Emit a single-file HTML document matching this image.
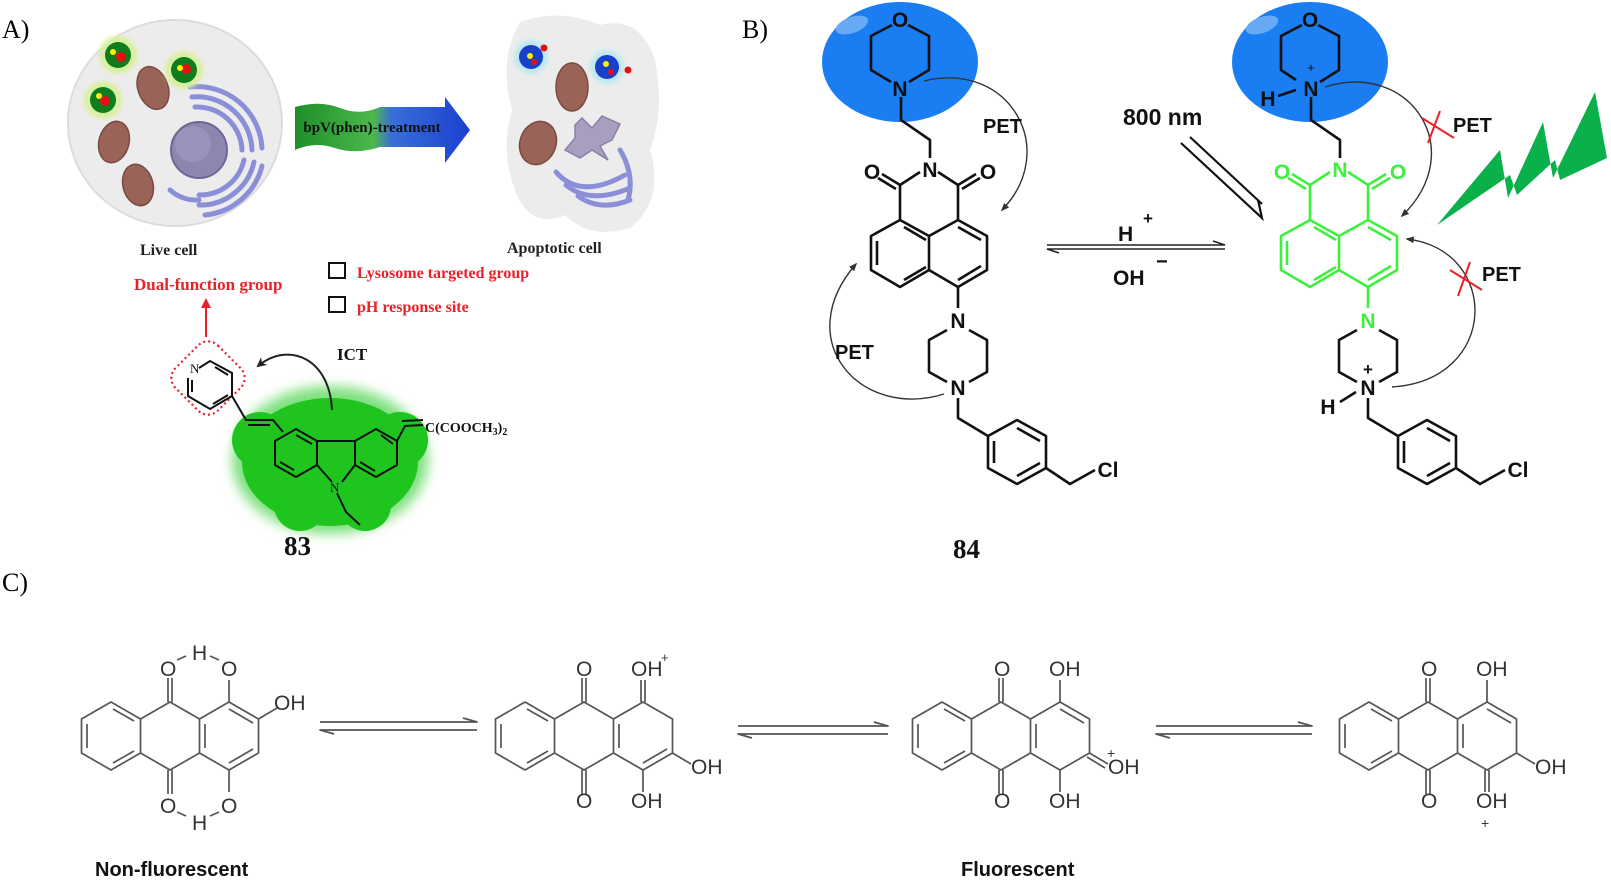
<!DOCTYPE html>
<html><head><meta charset="utf-8"><style>
html,body{margin:0;padding:0;background:#fff}
svg{display:block}
.sf{font-family:"Liberation Serif",serif}
.ss{font-family:"Liberation Sans",sans-serif}
</style></head><body>
<svg width="1611" height="884" viewBox="0 0 1611 884" xmlns="http://www.w3.org/2000/svg">
<defs>
<filter id="bl" x="-30%" y="-30%" width="160%" height="160%"><feGaussianBlur stdDeviation="6"/></filter>
<filter id="bl2" x="-30%" y="-30%" width="160%" height="160%"><feGaussianBlur stdDeviation="2"/></filter>
<linearGradient id="ag" x1="0" x2="1" y1="0" y2="0">
<stop offset="0" stop-color="#1f8f2a"/><stop offset="0.45" stop-color="#4cb84c"/><stop offset="0.55" stop-color="#3a6fd8"/><stop offset="1" stop-color="#1a3fd0"/></linearGradient>
<marker id="ah" viewBox="0 0 10 10" refX="8" refY="5" markerWidth="6" markerHeight="6" orient="auto"><path d="M0,1 L10,5 L0,9 Z" fill="#333"/></marker>
<marker id="ahr" viewBox="0 0 10 10" refX="8" refY="5" markerWidth="5" markerHeight="5" orient="auto"><path d="M0,0 L10,5 L0,10 Z" fill="#e8212a"/></marker>
<marker id="ahb" viewBox="0 0 10 10" refX="8" refY="5" markerWidth="5" markerHeight="5" orient="auto"><path d="M0,0 L10,5 L0,10 L3,5 Z" fill="#222"/></marker>
</defs>

<text x="2" y="38" class="sf" font-size="26">A)</text>
<text x="742" y="38" class="sf" font-size="26">B)</text>
<text x="2" y="591" class="sf" font-size="26">C)</text>

<!-- ===== Panel A ===== -->
<ellipse cx="175" cy="123" rx="107" ry="103" fill="#ececec" stroke="#dcdcdc" stroke-width="2"/>
<g fill="none" stroke="#8a8fd8" stroke-width="5" stroke-linecap="round">
<path d="M195,107 A45,45 0 0 1 242,150"/>
<path d="M192,97 A55,55 0 0 1 252,150"/>
<path d="M190,87 A65,65 0 0 1 262,148"/>
<path d="M244,160 A45,45 0 0 1 199,195"/>
<path d="M254,162 A55,55 0 0 1 199,205"/>
<path d="M262,166 A65,65 0 0 1 205,215"/>
<path d="M170,190 A40,40 0 0 0 199,200"/>
</g>
<circle cx="199" cy="150" r="28" fill="#8e86b0" stroke="#6e6896" stroke-width="2"/>
<circle cx="193" cy="144" r="18" fill="#a39cc4" opacity="0.6"/>
<g fill="#9a6358" stroke="#7a4a40" stroke-width="1.5">
<ellipse cx="153" cy="88" rx="15" ry="22" transform="rotate(-20 153 88)"/>
<ellipse cx="114" cy="142" rx="15" ry="21" transform="rotate(15 114 142)"/>
<ellipse cx="138" cy="185" rx="15" ry="21" transform="rotate(-15 138 185)"/>
</g>
<g>
<circle cx="118" cy="55" r="19" fill="#d8f0a0" filter="url(#bl2)"/>
<circle cx="184" cy="70" r="19" fill="#d8f0a0" filter="url(#bl2)"/>
<circle cx="103" cy="100" r="19" fill="#d8f0a0" filter="url(#bl2)"/>
<circle cx="118" cy="55" r="13" fill="#0d7d1e"/><circle cx="184" cy="70" r="13" fill="#0d7d1e"/><circle cx="103" cy="100" r="13" fill="#0d7d1e"/>
<circle cx="121" cy="57" r="5" fill="#e61010"/><circle cx="113" cy="52" r="3" fill="#ffef00"/>
<circle cx="186" cy="69" r="5" fill="#e61010"/><circle cx="180" cy="68" r="3" fill="#ffef00"/>
<circle cx="105" cy="101" r="5" fill="#e61010"/><circle cx="99" cy="96" r="3" fill="#ffef00"/>
</g>
<path d="M295,107 Q320,100 340,108 T380,107 L445,107 L445,97 L470,130 L445,163 L445,147 L380,147 Q355,155 335,148 T295,150 Z" fill="url(#ag)"/>
<text x="372" y="132" class="sf" font-size="15" font-weight="bold" text-anchor="middle" fill="#111">bpV(phen)-treatment</text>
<path d="M520,22 Q560,8 600,25 Q640,15 655,60 Q665,110 650,150 Q665,200 630,228 Q590,240 565,215 Q530,230 515,190 Q500,150 512,110 Q498,60 520,22 Z" fill="#ececec"/>
<circle cx="531" cy="57" r="17" fill="#bde8f0" filter="url(#bl2)"/><circle cx="531" cy="57" r="12" fill="#1a3fc8"/>
<circle cx="607" cy="67" r="17" fill="#bde8f0" filter="url(#bl2)"/><circle cx="607" cy="67" r="12" fill="#1a3fc8"/>
<circle cx="530" cy="56" r="3" fill="#ffef00"/><circle cx="534" cy="62" r="3" fill="#e61010"/><circle cx="544" cy="48" r="3.5" fill="#e61010"/>
<circle cx="606" cy="64" r="3" fill="#ffef00"/><circle cx="611" cy="72" r="3" fill="#e61010"/><circle cx="628" cy="70" r="3.5" fill="#e61010"/>
<ellipse cx="572" cy="87" rx="16" ry="24" fill="#9a6358" stroke="#7a4a40" stroke-width="1.5"/>
<ellipse cx="538" cy="143" rx="18" ry="22" fill="#9a6358" stroke="#7a4a40" stroke-width="1.5" transform="rotate(20 538 143)"/>
<path d="M575,125 L582,118 L592,128 L602,116 L620,124 L612,140 L600,146 L608,160 L592,150 L580,158 L565,150 L575,138 Z" fill="#a89ec0" stroke="#8a80a8" stroke-width="1.5"/>
<g fill="none" stroke="#8a8fd8" stroke-width="5" stroke-linecap="round">
<path d="M556,172 Q580,200 625,175"/><path d="M566,185 Q590,205 630,188"/><path d="M578,196 Q600,212 630,200"/><path d="M620,150 Q635,175 628,200"/>
</g>
<text x="140" y="255" class="sf" font-size="16" font-weight="bold" fill="#222">Live cell</text>
<text x="507" y="253" class="sf" font-size="16" font-weight="bold" fill="#222">Apoptotic cell</text>
<rect x="329" y="263" width="16" height="15" fill="none" stroke="#111" stroke-width="2"/>
<rect x="329" y="297" width="16" height="15" fill="none" stroke="#111" stroke-width="2"/>
<text x="357" y="278" class="sf" font-size="16" font-weight="bold" fill="#e8212a">Lysosome  targeted group</text>
<text x="357" y="312" class="sf" font-size="16" font-weight="bold" fill="#e8212a">pH response  site</text>
<text x="134" y="290" class="sf" font-size="17" font-weight="bold" fill="#e8212a">Dual-function group</text>
<line x1="206" y1="337" x2="206" y2="300" stroke="#e8212a" stroke-width="2" marker-end="url(#ahr)"/>
<g filter="url(#bl)">
<ellipse cx="330" cy="460" rx="98" ry="74" fill="#7ee07e"/>
</g>
<g fill="#1fc41f">
<ellipse cx="330" cy="462" rx="88" ry="64"/>
<circle cx="260" cy="440" r="28"/><circle cx="400" cy="440" r="28"/><circle cx="300" cy="505" r="26"/><circle cx="365" cy="505" r="26"/>
</g>
<rect x="178" y="348" width="60" height="60" rx="14" fill="none" stroke="#e8212a" stroke-width="2.2" stroke-dasharray="2,3" transform="rotate(45 208 378)"/>
<g fill="none" stroke="#111" stroke-width="2">
<path d="M199,368 L210,361 L232,373 L232,396 L210,409 L188,396 L188,378"/>
<path d="M215,367 L228,375 M228,395 L213,404 M192,392 L192,380"/>
<path d="M232,396 L246,420 L273,420 L283,432 M248,425 L270,425"/>
<path d="M296,429 L317,441 L317,465 L296,477 L275,465 L275,441 Z"/>
<path d="M376,429 L397,441 L397,465 L376,477 L355,465 L355,441 Z"/>
<path d="M317,441 L355,441 M317,465 L332,482 M355,465 L342,482"/>
<path d="M296,435 L312,444 M280,462 L294,470 M381,435 L393,444 M360,462 L375,471"/>
<path d="M337,493 L346,512 L360,525"/>
<path d="M397,441 L405,426 L423,425 M402,421 L423,420"/>
</g>
<text x="330" y="492" class="sf" font-size="13" fill="#111">N</text>
<text x="190" y="373" class="sf" font-size="13" fill="#111">N</text>
<text x="425" y="432" class="sf" font-size="14" font-weight="bold" fill="#111">C(COOCH<tspan font-size="10" dy="3">3</tspan><tspan dy="-3">)</tspan><tspan font-size="10" dy="3">2</tspan></text>
<path d="M332,410 C330,360 290,340 258,366" fill="none" stroke="#222" stroke-width="2" marker-end="url(#ahb)"/>
<text x="337" y="360" class="sf" font-size="17" font-weight="bold" fill="#111">ICT</text>
<text x="284" y="555" class="sf" font-size="27" font-weight="bold" fill="#111">83</text>

<!-- ===== Panel B ===== -->
<ellipse cx="900" cy="62" rx="78" ry="60" fill="#1a7ef2"/>
<ellipse cx="1310" cy="62" rx="78" ry="60" fill="#1a7ef2"/>
<ellipse cx="1262" cy="25" rx="17" ry="8" fill="#66a9f5" transform="rotate(-20 1262 25)"/>
<ellipse cx="852" cy="25" rx="17" ry="8" fill="#66a9f5" transform="rotate(-20 852 25)"/>

<g fill="none" stroke="#111" stroke-width="2.6" stroke-linejoin="round">
<path d="M892,25 L871,36 L871,70 L891,82 M908,25 L929,36 L929,70 L909,82"/>
<path d="M901,97 L901,120 L930,140 L930,158"/>
<path d="M920,172 L900,185 L900,220 L871,236 L871,270 L900,287 L929,270 L958,287 L987,270 L987,236 L958,220 L958,185 L938,172"/>
<path d="M929,236 L929,270 M900,220 L929,236 L958,220"/>
<path d="M877,241 L877,265 M904,280 L926,267 M958,227 L981,240 M958,280 L981,266 M904,227 L926,240"/>
<path d="M900,185 L882,174 M896,189 L878,178 M958,185 L976,174 M962,189 L980,178"/>
<path d="M958,287 L958,308"/>
<path d="M947,330 L929,340 L929,372 L947,382 M969,330 L987,340 L987,372 L969,382"/>
<path d="M958,398 L958,418 L988,436 L1017,420 L1046,436 L1046,468 L1017,484 L988,468 L988,436 M1017,428 L1040,441 M1040,463 L1017,476 M994,441 L994,463"/>
<path d="M1046,468 L1070,484 L1095,470"/>
</g>
<g class="ss" font-weight="bold" font-size="21" fill="#111" text-anchor="middle">
<text x="900" y="27">O</text><text x="900" y="96">N</text>
<text x="930" y="177">N</text><text x="872" y="179">O</text><text x="988" y="179">O</text>
<text x="958" y="328">N</text><text x="958" y="395">N</text>
<text x="1108" y="477">Cl</text>
</g>

<g fill="none" stroke="#111" stroke-width="2.6" stroke-linejoin="round">
<path d="M1302,25 L1281,36 L1281,70 L1296,80 M1318,25 L1339,36 L1339,70 L1320,82"/>
<path d="M1311,97 L1311,120 L1340,140 L1340,158"/>
<path d="M1357,330 L1339,340 L1339,372 L1357,382 M1379,330 L1397,340 L1397,372 L1379,382"/>
<path d="M1368,398 L1368,418 L1398,436 L1427,420 L1456,436 L1456,468 L1427,484 L1398,468 L1398,436 M1427,428 L1450,441 M1450,463 L1427,476 M1404,441 L1404,463"/>
<path d="M1456,468 L1480,484 L1505,470"/>
<path d="M1296,90 L1278,96 M1356,392 L1340,402"/>
</g>
<g fill="none" stroke="#3ef03e" stroke-width="2.6" stroke-linejoin="round">
<path d="M1330,172 L1310,185 L1310,220 L1281,236 L1281,270 L1310,287 L1339,270 L1368,287 L1397,270 L1397,236 L1368,220 L1368,185 L1348,172"/>
<path d="M1339,236 L1339,270 M1310,220 L1339,236 L1368,220"/>
<path d="M1287,241 L1287,265 M1314,280 L1336,267 M1368,227 L1391,240 M1368,280 L1391,266 M1314,227 L1336,240"/>
<path d="M1310,185 L1292,174 M1306,189 L1288,178 M1368,185 L1386,174 M1372,189 L1390,178"/>
<path d="M1368,287 L1368,308"/>
</g>
<g class="ss" font-weight="bold" font-size="21" text-anchor="middle">
<text x="1310" y="27" fill="#111">O</text><text x="1311" y="96" fill="#111">N</text>
<text x="1311" y="72" font-size="13" font-weight="normal" fill="#111">+</text>
<text x="1268" y="106" fill="#111">H</text>
<text x="1340" y="177" fill="#3ef03e">N</text><text x="1282" y="179" fill="#3ef03e">O</text><text x="1398" y="179" fill="#3ef03e">O</text>
<text x="1368" y="328" fill="#3ef03e">N</text><text x="1368" y="395" fill="#111">N</text>
<text x="1368" y="375" font-size="17" fill="#111">+</text>
<text x="1328" y="414" fill="#111">H</text>
<text x="1518" y="477" fill="#111">Cl</text>
</g>

<g fill="none" stroke="#333" stroke-width="1.4">
<path d="M924,81 C1010,60 1060,150 1002,210" marker-end="url(#ah)"/>
<path d="M944,394 C860,420 790,340 856,264" marker-end="url(#ah)"/>
<path d="M1325,87 C1410,60 1470,150 1402,216" marker-end="url(#ah)"/>
<path d="M1392,387 C1500,380 1500,250 1407,239" marker-end="url(#ah)"/>
</g>
<g class="ss" font-weight="bold" font-size="20" fill="#111">
<text x="983" y="133">PET</text>
<text x="835" y="359">PET</text>
<text x="1453" y="132">PET</text>
<text x="1482" y="281">PET</text>
</g>
<g stroke="#e8212a" stroke-width="2">
<path d="M1422,118 L1454,138 M1440,111 L1428,143"/>
<path d="M1450,270 L1482,290 M1470,262 L1458,296"/>
</g>
<g stroke="#222" stroke-width="1.5" fill="none">
<path d="M1047,245 L1225,245 L1213,241"/>
<path d="M1225,249 L1047,249 L1059,253"/>
</g>
<g class="ss" font-weight="bold" font-size="21" fill="#111">
<text x="1118" y="241">H</text><text x="1143" y="224" font-size="17">+</text>
<text x="1113" y="285">OH</text><text x="1156" y="268" font-size="20">−</text>
<text x="1123" y="125" font-size="23">800 nm</text>
</g>
<g stroke="#111" stroke-width="2.2" fill="none">
<path d="M1181,143 L1262,218 L1258,200"/>
<path d="M1190,137 L1262,204"/>
</g>
<polygon points="1437,225 1500,150 1508,198 1543,122 1553,178 1595,92 1607,158 1560,180 1555,160 1517,195 1510,175" fill="#0ab04a"/>
<text x="953" y="558" class="sf" font-size="27" font-weight="bold" fill="#111">84</text>

<!-- ===== Panel C ===== -->
<g fill="none" stroke="#555" stroke-width="1.7" stroke-linejoin="round">
<g transform="translate(111,736)">
<path d="M0,-34 L29.5,-17 L29.5,17 L0,34 L-29.5,17 L-29.5,-17 Z"/>
<path d="M29.5,-17 L59,-34 L88.5,-17 L88.5,17 L59,34 L29.5,17"/>
<path d="M88.5,-17 L118,-34 L147.5,-17 L147.5,17 L118,34 L88.5,17"/>
<path d="M-24,-12 L-24,12 M2,-27 L23,-15 M2,27 L23,15 M94,-12 L94,12 M118,-27 L142,-13 M118,27 L142,13"/>
<path d="M57,-34 L57,-58 M61,-34 L61,-58 M57,34 L57,58 M61,34 L61,58 M118,-34 L118,-56 M118,34 L118,56 M147.5,-17 L166,-28"/>
<path d="M66,-76 L75,-80 M99,-80 L108,-76 M66,76 L75,80 M99,80 L108,76"/>
</g>
<g transform="translate(525,736)">
<path d="M0,-34 L29.5,-17 L29.5,17 L0,34 L-29.5,17 L-29.5,-17 Z"/>
<path d="M29.5,-17 L59,-34 L88.5,-17 L88.5,17 L59,34 L29.5,17"/>
<path d="M88.5,-17 L118,-34 L147.5,-17 L147.5,17 L118,34 L88.5,17"/>
<path d="M-24,-12 L-24,12 M2,-27 L23,-15 M2,27 L23,15 M94,-12 L94,12 M118,27 L142,13"/>
<path d="M57,-34 L57,-58 M61,-34 L61,-58 M57,34 L57,58 M61,34 L61,58 M116,-34 L116,-56 M120,-34 L120,-56 M118,34 L118,56 M147.5,17 L166,28"/>
</g>
<g transform="translate(942,736)">
<path d="M0,-34 L29.5,-17 L29.5,17 L0,34 L-29.5,17 L-29.5,-17 Z"/>
<path d="M29.5,-17 L59,-34 L88.5,-17 L88.5,17 L59,34 L29.5,17"/>
<path d="M88.5,-17 L118,-34 L147.5,-17 L147.5,17 L118,34 L88.5,17"/>
<path d="M-24,-12 L-24,12 M2,-27 L23,-15 M2,27 L23,15 M94,-12 L94,12 M118,-27 L142,-13"/>
<path d="M57,-34 L57,-58 M61,-34 L61,-58 M57,34 L57,58 M61,34 L61,58 M118,-34 L118,-56 M118,34 L118,56 M147.5,17 L166,28 M145,21 L163,32"/>
</g>
<g transform="translate(1369,736)">
<path d="M0,-34 L29.5,-17 L29.5,17 L0,34 L-29.5,17 L-29.5,-17 Z"/>
<path d="M29.5,-17 L59,-34 L88.5,-17 L88.5,17 L59,34 L29.5,17"/>
<path d="M88.5,-17 L118,-34 L147.5,-17 L147.5,17 L118,34 L88.5,17"/>
<path d="M-24,-12 L-24,12 M2,-27 L23,-15 M2,27 L23,15 M94,-12 L94,12 M118,-27 L142,-13"/>
<path d="M57,-34 L57,-58 M61,-34 L61,-58 M57,34 L57,58 M61,34 L61,58 M118,-34 L118,-56 M116,34 L116,56 M120,34 L120,56 M147.5,17 L166,28"/>
</g>
<path d="M320,722 L477,722 L463,718 M477,730 L320,730 L334,734"/>
<path d="M738,726 L888,726 L874,722 M888,734 L738,734 L752,738"/>
<path d="M1156,726 L1312,726 L1298,722 M1312,734 L1156,734 L1170,738"/>
</g>
<g class="ss" font-size="21" fill="#333">
<text x="160" y="676">O</text><text x="192" y="660">H</text><text x="221" y="676">O</text>
<text x="274" y="710">OH</text>
<text x="160" y="813">O</text><text x="192" y="830">H</text><text x="221" y="813">O</text>
<text x="576" y="676">O</text><text x="631" y="676">OH</text><text x="661" y="662" font-size="13">+</text>
<text x="691" y="774">OH</text><text x="631" y="808">OH</text><text x="576" y="808">O</text>
<text x="994" y="676">O</text><text x="1049" y="676">OH</text>
<text x="1108" y="774">OH</text><text x="1107" y="758" font-size="14">+</text>
<text x="1049" y="808">OH</text><text x="994" y="808">O</text>
<text x="1421" y="676">O</text><text x="1476" y="676">OH</text>
<text x="1535" y="774">OH</text><text x="1476" y="808">OH</text><text x="1481" y="828" font-size="14">+</text>
<text x="1421" y="808">O</text>
</g>
<g class="ss" font-size="20" font-weight="bold" fill="#111">
<text x="95" y="876">Non-fluorescent</text>
<text x="961" y="876">Fluorescent</text>
</g>
</svg>
</body></html>
